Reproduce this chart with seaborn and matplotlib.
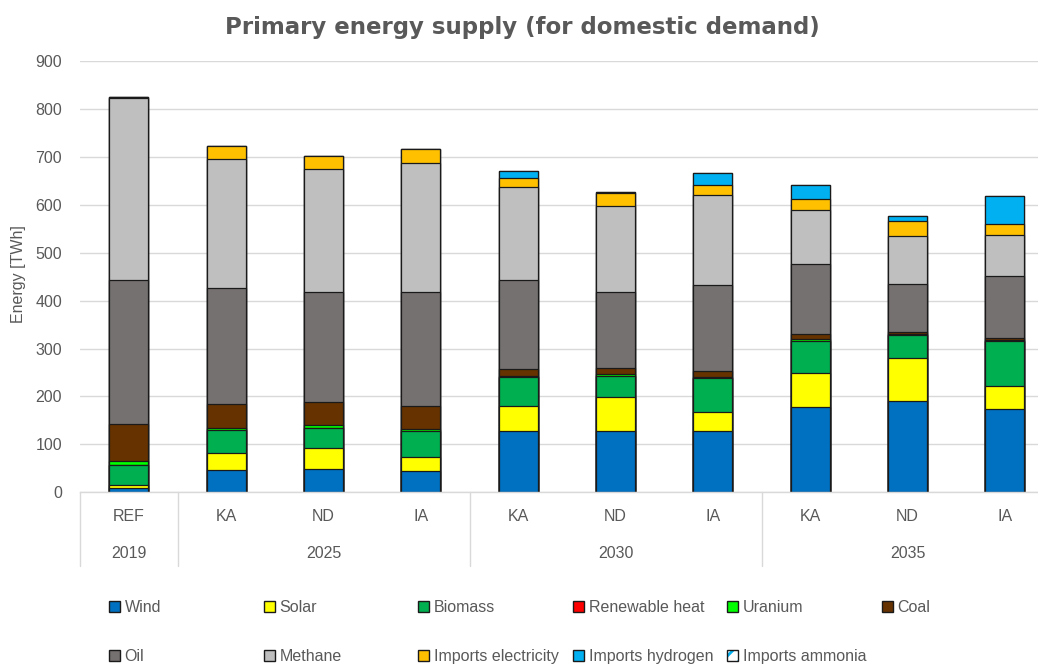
import numpy as np
import pandas as pd
import matplotlib
matplotlib.use("Agg")
import matplotlib.pyplot as plt
import matplotlib.transforms as mtransforms
from matplotlib.patches import Patch
import seaborn as sns

# Scenario axis: one bar per scenario, grouped by year
scenarios = ["REF", "KA", "ND", "IA", "KA", "ND", "IA", "KA", "ND", "IA"]
years = ["2019", "2025", "2030", "2035"]
year_spans = [(0, 0), (1, 3), (4, 6), (7, 9)]

# Primary energy supply per source [TWh], bottom to top of each stack
wind = [10, 46, 48, 45, 128, 128, 128, 177, 190, 174]
solar = [5, 36, 44, 29, 53, 71, 39, 71, 90, 48]
biomass = [41, 48, 43, 54, 59, 44, 71, 67, 48, 93]
renewable_heat = [0, 0, 0, 0, 0, 0, 0, 0, 0, 0]
uranium = [10, 5, 6, 5, 3, 4, 2, 4, 3, 3]
coal = [76, 49, 47, 48, 14, 12, 14, 12, 4, 4]
oil = [302, 242, 231, 236, 185, 159, 179, 145, 100, 129]
methane = [378, 269, 255, 271, 196, 179, 188, 114, 99, 85]
imports_electricity = [3, 27, 28, 28, 18, 28, 21, 22, 33, 24]
imports_hydrogen = [0, 0, 0, 0, 14, 1, 24, 30, 9, 59]
imports_ammonia = [0, 0, 0, 0, 0, 0, 0, 0, 0, 0]

sources = ["Wind", "Solar", "Biomass", "Renewable heat", "Uranium", "Coal",
           "Oil", "Methane", "Imports electricity", "Imports hydrogen",
           "Imports ammonia"]
series = [wind, solar, biomass, renewable_heat, uranium, coal, oil, methane,
          imports_electricity, imports_hydrogen, imports_ammonia]
colors = ["#0070C0", "#FFFF00", "#00B050", "#FF0000", "#00FF00", "#663300",
          "#767171", "#BFBFBF", "#FFC000", "#00B0F0", "#FFFFFF"]

TEXT = "#595959"
GRID = "#D9D9D9"
EDGE = "#1A1A1A"
FS = 11.5

sns.set_theme(style="white")
plt.rcParams["font.family"] = ["Liberation Sans", "DejaVu Sans"]
plt.rcParams["hatch.linewidth"] = 2.0

W, H = 1038, 668
fig = plt.figure(figsize=(W / 100, H / 100), dpi=100)
ax = fig.add_axes([80.2 / W, (H - 492.3) / H, 973.3 / W, 431.3 / H])

df = pd.DataFrame(dict(zip(sources, series)))
df["pos"] = np.arange(len(scenarios))
cum = df[sources].cumsum(axis=1)

# Stacked bars: draw cumulative totals from the top layer down
for src, col in reversed(list(zip(sources, colors))):
    hatch = "//" if src == "Imports ammonia" else None
    sns.barplot(x=df["pos"], y=cum[src], color=col, saturation=1, width=0.4,
                errorbar=None, edgecolor=EDGE, linewidth=0.9, ax=ax,
                hatch=hatch)

ax.set_ylim(0, 900)
ax.set_xlim(-0.5, 9.5)
ax.set_yticks(np.arange(0, 901, 100))
ax.yaxis.grid(True, color=GRID, linewidth=1)
ax.set_axisbelow(True)
for s in ["top", "right", "left"]:
    ax.spines[s].set_visible(False)
ax.spines["bottom"].set_color(GRID)
ax.spines["bottom"].set_linewidth(1)

ax.set_xticks(range(len(scenarios)))
ax.set_xticklabels(scenarios)
ax.tick_params(axis="x", length=0, pad=12, labelsize=FS, labelcolor=TEXT)
ax.tick_params(axis="y", length=0, pad=13, labelsize=FS, labelcolor=TEXT)
ax.set_xlabel("")
ax.set_ylabel("")

# Year row and group separators below the axis
trans = mtransforms.blended_transform_factory(ax.transData, fig.transFigure)
for yr, (a, b) in zip(years, year_spans):
    ax.text((a + b) / 2, 1 - 553 / H, yr, transform=trans, ha="center",
            va="center", fontsize=FS, color=TEXT, clip_on=False)
for xs in [-0.5, 0.5, 3.5, 6.5]:
    ax.plot([xs, xs], [1 - 492.3 / H, 1 - 566 / H], transform=trans,
            color=GRID, linewidth=1, clip_on=False)

fig.text(19 / W, 1 - 274 / H, "Energy [TWh]", rotation=90, ha="center",
         va="center", fontsize=FS, color=TEXT)
fig.text(522 / W, 1 - 34 / H, "Primary energy supply (for domestic demand)",
         ha="center", va="baseline", fontsize=16.5, fontweight="bold",
         color=TEXT, family="DejaVu Sans")

# Legend: six columns, two rows
handles = []
for src, col in zip(sources, colors):
    if src == "Imports ammonia":
        handles.append((Patch(facecolor="white", edgecolor="#00B0F0",
                              hatch="//", linewidth=0),
                        Patch(facecolor="none", edgecolor=EDGE, linewidth=1)))
    else:
        handles.append(Patch(facecolor=col, edgecolor=EDGE, linewidth=1))

col_x = [109, 264, 418, 573, 727, 882]
for i, x in enumerate(col_x):
    idx = [j for j in (i, i + 6) if j < len(sources)]
    fig.legend([handles[j] for j in idx], [sources[j] for j in idx],
               loc="upper left", bbox_to_anchor=(x / W, 1 - 600 / H),
               frameon=False, fontsize=FS, labelcolor=TEXT,
               handlelength=0.68, handleheight=0.68, handletextpad=0.3,
               labelspacing=2.15, borderpad=0, borderaxespad=0)

fig.savefig("out.png", dpi=100)
